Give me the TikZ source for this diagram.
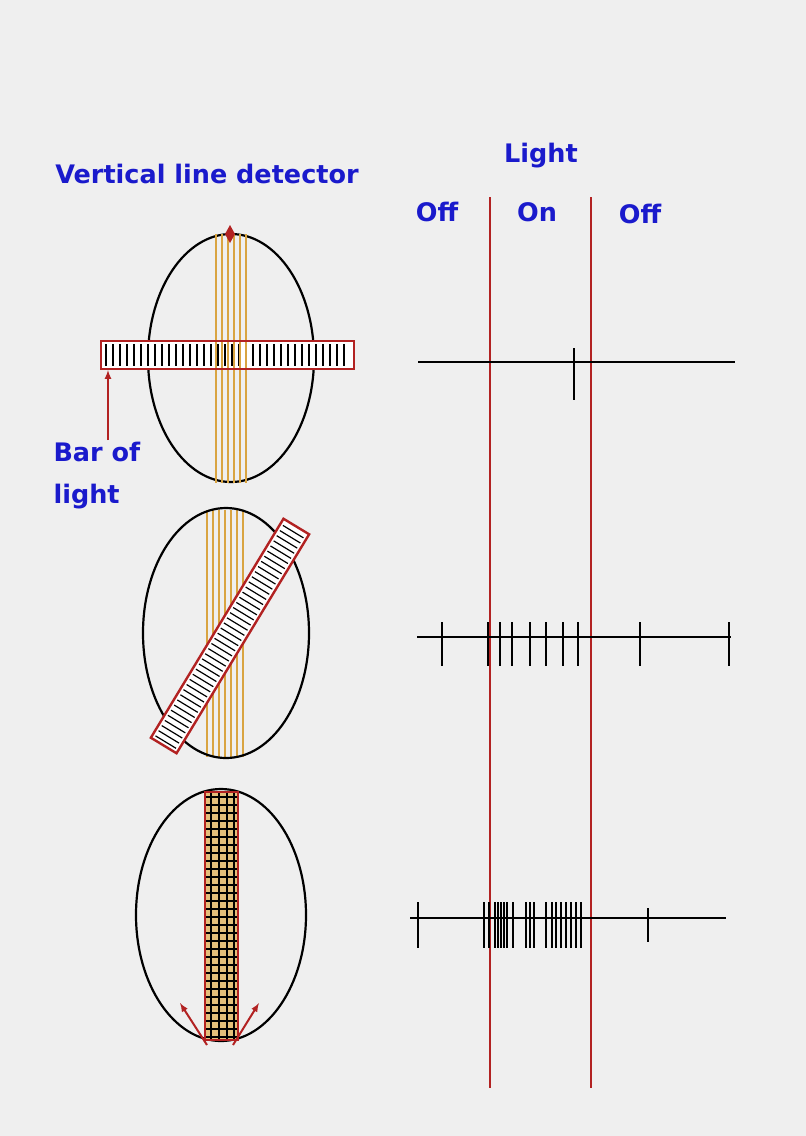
\documentclass[tikz,border=0pt]{standalone}
\usepackage{fontspec}
\setmainfont{DejaVu Sans}
\definecolor{bg}{HTML}{EFEFEF}
\definecolor{lblue}{HTML}{1A1ACC}
\definecolor{barred}{HTML}{B22222}
\definecolor{gold}{HTML}{D9A441}
\tikzset{
  label/.style={text=lblue,font=\bfseries\fontsize{25.5}{42}\selectfont},
  frame/.style={draw=barred,line width=2.4pt},
  spike/.style={line width=2.2pt},
  redarrow/.style={barred,line width=2pt,-latex}
}
\begin{document}
\begin{tikzpicture}[x=1pt,y=-1pt]
  \fill[bg] (0,0) rectangle (806,1136);
  \useasboundingbox (0,0) rectangle (806,1136);
  % labels
  \node[label] (title) at (207,174) {Vertical line detector};
  \node[label] (light) at (541,156) {Light};
  \node[label] (off1) at (437,212) {Off};
  \node[label] (on) at (537,212) {On};
  \node[label] (off2) at (640,214) {Off};
  \node[label,align=left,anchor=west] (bar) at (50,476) {Bar of\\light};
  % light on / off borders
  \draw[barred,line width=2.8pt] (490,197) -- (490,1088);
  \draw[barred,line width=2.8pt] (591,197) -- (591,1088);
  % first cell
  \draw[line width=2.2pt] (231,358) ellipse (83 and 124);
  \fill[white] (101,341) rectangle (354,369);
  \foreach \x in {106,113,...,350} \draw[line width=1.6pt] (\x,344) -- (\x,366);
  \foreach \x in {216,222,...,246} \draw[gold,line width=1.6pt] (\x,234) -- (\x,483);
  \draw[frame] (101,341) rectangle (354,369);
  \fill[barred] (230,225) -- (235,234) -- (230,243) -- (225,234) -- cycle;
  \coordinate (foot) at (108,440);
  \draw[redarrow] (foot) -- (108,370);
  % second cell
  \foreach \x in {207,213,...,245} \draw[gold,line width=1.6pt] (\x,510) -- (\x,757);
  \draw[line width=2.2pt] (226,633) ellipse (83 and 125);
  \begin{scope}[shift={(230,636)},rotate=58.8]
    \fill[white] (-128,-15) rectangle (128,15);
    \foreach \x in {-124,-118,...,124} \draw[line width=1.2pt] (\x,-12) -- (\x,12);
    \draw[frame] (-128,-15) rectangle (128,15);
  \end{scope}
  % third cell
  \draw[line width=2.2pt] (221,915) ellipse (85 and 126);
  \fill[gold!70] (205,792) rectangle (238,1040);
  \foreach \y in {797,805,...,1037} \draw[line width=1.4pt] (205,\y) -- (238,\y);
  \foreach \x in {211,219,227,234} \draw[line width=1.4pt] (\x,792) -- (\x,1040);
  \draw[frame] (205,792) rectangle (238,1040);
  \draw[redarrow] (207,1045) -- (180,1003);
  \draw[redarrow] (233,1045) -- (259,1003);
  % spike trains
  \draw[line width=2.2pt] (418,362) -- (735,362);
  \draw[spike] (574,348) -- (574,400);
  \draw[line width=2.2pt] (417,637) -- (731,637);
  \foreach \x in {442,488,500,512,530,546,563,578,640,729} \draw[spike] (\x,622) -- (\x,666);
  \draw[line width=2.2pt] (410,918) -- (726,918);
  \foreach \x in {418,484,489,495,498,501,504,507,513,526,530,534,546,552,556,561,566,571,576,581}
    \draw[spike] (\x,902) -- (\x,948);
  \draw[spike] (648,908) -- (648,942);
\end{tikzpicture}
\end{document}
